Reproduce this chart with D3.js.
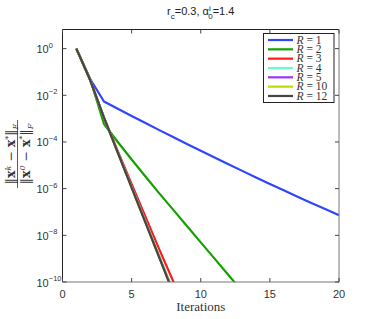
<!DOCTYPE html>
<html>
<head>
<meta charset="utf-8">
<script src="https://cdn.jsdelivr.net/npm/d3@7"></script>
<style>
body{margin:0;background:#fff;}
svg{display:block;}
.tick-lbl{font-family:"Liberation Sans",Arial,sans-serif;font-size:11px;fill:#333;}
</style>
</head>
<body>
<script>
const width=374;
const height=319;
const plotL=62.5, plotR=339, plotT=29.5, plotB=282;

const iters=[1,2,3,4,5,6,7,8,9,10,11,12,13,14,15,16,17,18,19,20];
const labels=['1','2','3','4','5','10','12'];
const colors=['#2f45ff','#16a000','#ff1a1a','#66ffcc','#9933ff','#bbdd00','#454545'];

// relative error per iteration, one list per R
const errR1=[1,5.0e-2,5.4e-3,2.63e-3,1.30e-3,6.44e-4,3.22e-4,1.62e-4,8.2e-5,4.19e-5,2.15e-5,1.11e-5,5.78e-6,3.03e-6,1.60e-6,8.49e-7,4.55e-7,2.45e-7,1.33e-7,7.24e-8];
const errR2=[1,5.0e-2,5.9e-4,1.0e-4,1.78e-5,3.3e-6,6.3e-7,1.26e-7,2.5e-8,5.0e-9,1.0e-9,2.0e-10,4.0e-11];
const errR3=[1,4.5e-2,1.1e-3,4.0e-5,1.6e-6,6.3e-8,2.5e-9,1.1e-10,5.0e-12];
const errR4=[1,4.5e-2,1.1e-3,3.6e-5,1.2e-6,4.0e-8,1.3e-9,4.3e-11];
const errR5=[1,4.5e-2,1.1e-3,3.55e-5,1.15e-6,3.8e-8,1.2e-9,4.0e-11];
const errR10=[1,4.5e-2,1.1e-3,3.5e-5,1.1e-6,3.6e-8,1.15e-9,3.8e-11];
const errR12=[1,4.5e-2,1.1e-3,3.5e-5,1.1e-6,3.5e-8,1.1e-9,3.5e-11];
const series=[errR1,errR2,errR3,errR4,errR5,errR10,errR12];

const xTicks=[0,5,10,15,20];
const yExps=[0,-2,-4,-6,-8,-10];

const svg=d3.select('body').append('svg').attr('width',width).attr('height',height);

const x=d3.scaleLinear().domain([0,20]).range([plotL,plotR]);
const y=d3.scaleLog().domain([1e-10,6.6]).range([plotB,plotT]);

svg.append('defs').append('clipPath').attr('id','plotclip')
    .append('rect').attr('x',plotL).attr('y',plotT).attr('width',plotR-plotL).attr('height',plotB-plotT);

// lines
const line=d3.line().x((d,i)=>x(iters[i])).y(d=>y(d));
svg.append('g').attr('clip-path','url(#plotclip)')
    .selectAll('path').data(series).enter().append('path')
    .attr('d',d=>line(d))
    .attr('fill','none')
    .attr('stroke',(d,i)=>colors[i])
    .attr('stroke-width',2.2)
    .attr('stroke-linejoin','round');

// frame
svg.append('line').attr('x1',plotL).attr('x2',plotR).attr('y1',plotT).attr('y2',plotT).attr('stroke','#222');
svg.append('line').attr('x1',plotL).attr('x2',plotL).attr('y1',plotT).attr('y2',plotB).attr('stroke','#222');
svg.append('line').attr('x1',plotL).attr('x2',plotR).attr('y1',plotB).attr('y2',plotB).attr('stroke','#777');
svg.append('line').attr('x1',plotR).attr('x2',plotR).attr('y1',plotT).attr('y2',plotB).attr('stroke','#777');

// ticks inside
const tk=4;
xTicks.forEach(t=>{
    svg.append('line').attr('x1',x(t)).attr('x2',x(t)).attr('y1',plotB).attr('y2',plotB-tk).attr('stroke','#444');
    svg.append('line').attr('x1',x(t)).attr('x2',x(t)).attr('y1',plotT).attr('y2',plotT+tk).attr('stroke','#444');
    svg.append('text').attr('class','tick-lbl').attr('x',x(t)).attr('y',298)
        .attr('text-anchor','middle').text(t);
});
yExps.forEach(e=>{
    const yy=y(Math.pow(10,e));
    svg.append('line').attr('x1',plotL).attr('x2',plotL+tk).attr('y1',yy).attr('y2',yy).attr('stroke','#444');
    svg.append('line').attr('x1',plotR).attr('x2',plotR-tk).attr('y1',yy).attr('y2',yy).attr('stroke','#444');
    const t=svg.append('text').attr('class','tick-lbl').attr('x',36.5).attr('y',yy+4.5);
    t.append('tspan').text('10');
    t.append('tspan').attr('dy',-5.5).style('font-size','7.5px').text(e===0?'0':'\u2212'+(-e));
});

// x label
svg.append('text').attr('x',(plotL+plotR)/2).attr('y',311)
    .attr('text-anchor','middle')
    .style('font-family','"Liberation Serif","DejaVu Serif",serif')
    .style('font-size','13px').style('fill','#333')
    .text('Iterations');

// title
const title=svg.append('text').attr('x',(plotL+plotR)/2).attr('y',15)
    .attr('text-anchor','middle')
    .style('font-family','"Liberation Sans",Arial,sans-serif')
    .style('font-size','11px').style('fill','#222');
title.append('tspan').text('r');
title.append('tspan').attr('dy',4).style('font-size','8px').text('c');
title.append('tspan').attr('dy',-4).text('=0.3, \u03b1');
title.append('tspan').attr('dy',-4).style('font-size','8px').text('i');
title.append('tspan').attr('dx',-2.5).attr('dy',8).style('font-size','8px').text('0');
title.append('tspan').attr('dy',-4).text('=1.4');

// y label (fraction)
const yl=svg.append('g').attr('transform','translate(0,154) rotate(-90)')
    .style('font-family','"DejaVu Serif","Liberation Serif",serif').style('fill','#333');
function normText(g,yy,sup){
    const t=g.append('text').attr('x',0).attr('y',yy).attr('text-anchor','middle').style('font-size','12.5px');
    t.append('tspan').text('\u2016');
    t.append('tspan').style('font-weight','bold').text('x');
    t.append('tspan').attr('dy',-4.5).style('font-size','8px').style('font-style','italic').text(sup);
    t.append('tspan').attr('dy',4.5).text(' \u2212 ');
    t.append('tspan').style('font-weight','bold').text('x');
    t.append('tspan').attr('dy',-4.5).style('font-size','8px').text('*');
    t.append('tspan').attr('dy',4.5).text('\u2016');
    t.append('tspan').attr('dy',3).style('font-size','8px').style('font-style','italic').text('F');
}
normText(yl,15,'k');
normText(yl,29.5,'0');
yl.append('line').attr('x1',-34).attr('x2',34).attr('y1',17.5).attr('y2',17.5).attr('stroke','#333').attr('stroke-width',0.8);

// legend
const lg=svg.append('g');
lg.append('rect').attr('x',263.5).attr('y',33.5).attr('width',70.5).attr('height',69)
    .attr('fill','#fff').attr('stroke','#222').attr('stroke-width',1);
labels.forEach((l,i)=>{
    const ly=40+i*9.33;
    lg.append('line').attr('x1',268).attr('x2',293).attr('y1',ly).attr('y2',ly)
        .attr('stroke',colors[i]).attr('stroke-width',2.2);
    const t=lg.append('text').attr('x',296.5).attr('y',ly+3.8)
        .style('font-family','"Liberation Serif","DejaVu Serif",serif')
        .style('font-size','11.5px').style('fill','#333');
    t.append('tspan').style('font-style','italic').text('R');
    t.append('tspan').text(' = '+l);
});
</script>
</body>
</html>
